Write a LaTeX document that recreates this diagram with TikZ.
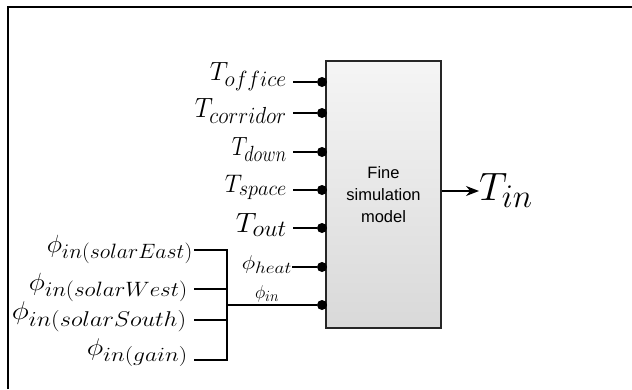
\documentclass[tikz,border=0pt]{standalone}
\usepackage{graphicx}
\usepackage{fontspec}
\setsansfont{Liberation Sans}
\usetikzlibrary{arrows.meta}
\newlength\natw
\newcommand\fitlab[3]{\settowidth\natw{\Huge$#3$}\pgfmathsetmacro\hxs{#1/\natw}\scalebox{\hxs}[#2]{\Huge$#3$}}
\begin{document}
\begin{tikzpicture}[x=1pt,y=-1pt,
  lab/.style={anchor=base east,inner sep=0pt},
  dot/.style={circle,fill=black,inner sep=0pt,minimum size=10pt},
  wire/.style={line width=1.3pt},
  model/.style={draw=black!85,line width=1.2pt,top color=gray!8,bottom color=gray!30,
     font=\sffamily\fontsize{16.5}{22}\selectfont,align=center,minimum width=115pt,minimum height=267pt,inner sep=0pt}]
\useasboundingbox (0,0) rectangle (632,389);
\begin{scope}
\clip (0,0) rectangle (632,389);
\draw[line width=1.5pt] (8,389) -- (8,7) -- (640,7);
\node[model] (box) at (383.5,194.5) {Fine\\simulation\\model};
% right-side inputs
\foreach \n/\y in {1/82,2/113,3/152,4/190,5/228,6/267,7/305}{
  \node[dot] (d\n) at (322,\y) {};
}
\node[lab] (t1) at (287,80) {\fitlab{77}{1.06}{T_{office}}};
\node[lab] (t2) at (287,117) {\fitlab{92}{1.12}{T_{corridor}}};
\node[lab] (t3) at (287,155) {\fitlab{55}{1.06}{T_{down}}};
\node[lab] (t4) at (287,192) {\fitlab{62}{1.02}{T_{space}}};
\node[lab] (t5) at (287,232) {\fitlab{51}{1.12}{T_{out}}};
\node[lab] (t6) at (292,269) {\fitlab{50}{0.8}{\phi_{heat}}};
\node[anchor=base,inner sep=0pt] (t7) at (267,298) {\fitlab{24}{0.75}{\phi_{in}}};
\foreach \n/\y in {1/82,2/113,3/152,4/190,5/228}{
  \coordinate (s\n) at (293,\y);
  \draw[wire] (s\n) -- (d\n);
}
\coordinate (s6) at (292,267);
\draw[wire] (s6) -- (d6);
% left group
\node[lab] (p1) at (193,252) {\fitlab{146}{1.0}{\phi_{in(solarEast)}}};
\node[lab] (p2) at (188,290) {\fitlab{159}{1.0}{\phi_{in(solarWest)}}};
\node[lab] (p3) at (187,319) {\fitlab{175}{1.03}{\phi_{in(solarSouth)}}};
\node[lab] (p4) at (188,355) {\fitlab{101}{0.97}{\phi_{in(gain)}}};
\coordinate (a1) at (194,250);
\coordinate (a2) at (194,289);
\coordinate (a3) at (194,320);
\coordinate (a4) at (194,360);
\coordinate (b1) at (227,250);
\coordinate (b2) at (227,289);
\coordinate (b3) at (227,320);
\coordinate (b4) at (227,360);
\coordinate (bj) at (227,305);
\draw[wire] (a1) -- (b1) -- (b4) -- (a4);
\draw[wire] (a2) -- (b2);
\draw[wire] (a3) -- (b3);
\draw[wire] (bj) -- (d7);
% output
\node[anchor=base west,inner sep=0pt] (out) at (479,200) {\scalebox{1.59}{\Huge$T_{in}$}};
\draw[wire,-{Stealth[length=13pt,width=10pt]}] (box.east |- 0,191) -- (out.west |- 0,191);
\end{scope}
\end{tikzpicture}
\end{document}
